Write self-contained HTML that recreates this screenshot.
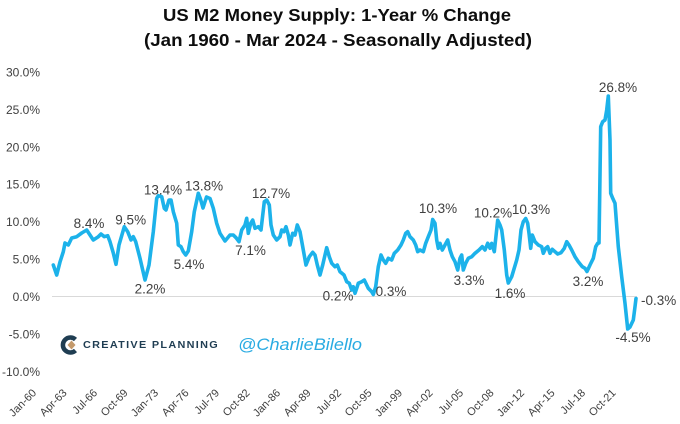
<!DOCTYPE html>
<html><head><meta charset="utf-8"><style>
html,body{margin:0;padding:0;background:#fff;}
svg{display:block;}
</style></head><body>
<svg width="680" height="424" viewBox="0 0 680 424" xmlns="http://www.w3.org/2000/svg" font-family="'Liberation Sans', sans-serif">
<rect width="680" height="424" fill="#fff"/>
<text x="163" y="21" font-size="17.5" font-weight="bold" fill="#0d0d0d" textLength="348" lengthAdjust="spacingAndGlyphs">US M2 Money Supply: 1-Year % Change</text>
<text x="144" y="46" font-size="17.5" font-weight="bold" fill="#0d0d0d" textLength="388" lengthAdjust="spacingAndGlyphs">(Jan 1960 - Mar 2024 - Seasonally Adjusted)</text>
<g font-size="12" fill="#404040" text-anchor="end">
<text x="40" y="76.5">30.0%</text>
<text x="40" y="114">25.0%</text>
<text x="40" y="151.3">20.0%</text>
<text x="40" y="188.7">15.0%</text>
<text x="40" y="226.2">10.0%</text>
<text x="40" y="263.5">5.0%</text>
<text x="40" y="301">0.0%</text>
<text x="40" y="338.4">-5.0%</text>
<text x="40" y="375.8">-10.0%</text>
</g>
<line x1="52" y1="296.5" x2="637" y2="296.5" stroke="#d9d9d9" stroke-width="1"/>
<g>
<path d="M75.5,339.5 A7.5,7.5 0 1,0 75.5,350.5" fill="none" stroke="#1f3d52" stroke-width="4.5"/>
<path d="M71.5,340.5 l4,4.5 -4,4.5 -4,-4.5z" fill="#c49a6c"/>
<text x="83" y="348" font-size="10" font-weight="bold" fill="#1f3d52" letter-spacing="1.2" textLength="136" lengthAdjust="spacingAndGlyphs">CREATIVE PLANNING</text>
<text x="238" y="350" font-size="16.5" font-style="italic" fill="#29abe2" textLength="124" lengthAdjust="spacingAndGlyphs">@CharlieBilello</text>
</g>
<polyline fill="none" stroke="#1cb2ea" stroke-width="3.6" stroke-linejoin="round" stroke-linecap="round" points="53.3,265 56.7,275 60,262 63.3,251.7 65,243 68.3,245 71.7,238 76.7,236.7 81.7,233 86.7,230 90,235 93.3,240 98.3,236.7 101,234 104.3,236.7 107.7,235.7 110,241.7 113.3,253 116,264.3 119,245 124.3,226.7 127.7,231.7 131,240 133.3,236.7 135.7,241.7 140,258.3 145,280 149,265 153.3,231.7 156.7,198.3 158.3,195.7 161.7,196.7 164.3,208.3 166,210 169,200 171,200 173.3,211.7 176.7,223.3 178.3,245 181,246.7 183.3,251.7 185.7,255 188.3,251 191.7,231.7 194.3,211.7 198.3,193.3 200.5,199 203,208 206.5,197 210,198.5 213.3,208.3 216.7,223.3 220,233.3 225,241 230,235 233.3,235 236,237.7 239,241.7 241.7,230 245,225 246.7,218.3 248.3,233.3 250.7,223.3 252.7,220 255,228.3 258.3,226.7 261,230 264.3,201.7 266.7,200 269.3,205 271,225 273.3,235 276.7,240 280,236.7 281.7,230 284,231.7 286,226.7 288.3,235 290,245 292.7,233.3 295,235 297.3,225 300,231.7 303.3,250 306,265 309.3,256.7 312.7,252.3 315,255 317.3,265 320,275 322.7,265 326.7,247.7 329.3,256.7 331.7,263.3 335,266.7 337.3,265 340,271.7 344,275 346.7,281.7 349.3,283.3 351.7,290 353.3,286.7 355,293.3 356.7,288.3 358.3,283.3 361.7,281.7 364.3,280 366.7,285 368.3,288.3 371.7,291.7 373.3,294.5 375.7,286.7 378.3,266.7 381,255 383.3,260 385.7,263.3 388.3,258.3 391.7,260 394.3,253.3 397.7,250 401,245 403.3,240 405.7,233.3 407.7,231.7 410,236.7 413.3,240 415.7,245 417.7,251.7 420,250 423.3,251.7 425.7,243.3 428.3,236.7 431,230 432.7,219.5 435,223.3 436.7,240 438.3,248.3 440,243.3 442.3,250 445,245 447.7,240 450,250 452.3,256.7 455,261.7 457.7,270 460,258.3 461.7,255 463.3,270 465.7,263.3 468.3,258.3 471.7,256.7 475,253.3 479,250 482.3,246.7 485,250 487.7,243.3 490,248.3 491.7,243.3 494.3,251.7 497.7,220.2 500,225 501.7,230 504.3,250 506.7,275 508.3,283 511.7,276.7 516.7,260 519,250 521,230 523.3,221.7 525.7,218.5 527.7,223.3 529,233.3 530.7,248.3 532.3,235 535,241.7 538.3,245 541.7,246.7 543.3,253.3 545.7,248.3 547.7,246.7 550,253.3 552.3,249.3 555,251.7 557.7,254 561,252.7 564.3,248.3 566.7,241.7 569,245 571.7,250 575,256.7 578.3,261.7 582.3,266.7 585,268.3 587,271.5 590,265 593.3,258.3 595.7,246.7 597.7,243.3 599,243 600.7,126.7 602.7,121.7 605,120 606.7,110 608.3,96 610,140 610.7,193.3 612.7,198.3 615,203.3 618.3,246.7 621.7,276.7 625,303.3 627.7,329 630,327 633.3,320 635,306.7 636,298.5"/>
<g font-size="13.5" fill="#404040" text-anchor="middle">
<text x="89" y="228">8.4%</text>
<text x="130.7" y="224.5">9.5%</text>
<text x="163" y="194.5">13.4%</text>
<text x="204" y="190.5">13.8%</text>
<text x="271" y="198">12.7%</text>
<text x="150" y="293.5">2.2%</text>
<text x="189" y="269">5.4%</text>
<text x="250.5" y="255">7.1%</text>
<text x="338" y="300.5">0.2%</text>
<text x="391" y="296">0.3%</text>
<text x="438" y="213">10.3%</text>
<text x="469" y="285">3.3%</text>
<text x="493" y="217.5">10.2%</text>
<text x="510" y="298">1.6%</text>
<text x="531" y="214">10.3%</text>
<text x="588" y="286">3.2%</text>
<text x="618" y="92">26.8%</text>
<text x="633" y="342">-4.5%</text>
<text x="641" y="305" text-anchor="start">-0.3%</text>
</g>
<g font-size="11" fill="#404040" text-anchor="end">
<text transform="translate(37,393.5) rotate(-45)">Jan-60</text>
<text transform="translate(67.5,393.5) rotate(-45)">Apr-63</text>
<text transform="translate(98,393.5) rotate(-45)">Jul-66</text>
<text transform="translate(128.5,393.5) rotate(-45)">Oct-69</text>
<text transform="translate(159,393.5) rotate(-45)">Jan-73</text>
<text transform="translate(189.5,393.5) rotate(-45)">Apr-76</text>
<text transform="translate(220,393.5) rotate(-45)">Jul-79</text>
<text transform="translate(250.5,393.5) rotate(-45)">Oct-82</text>
<text transform="translate(281,393.5) rotate(-45)">Jan-86</text>
<text transform="translate(311.5,393.5) rotate(-45)">Apr-89</text>
<text transform="translate(342,393.5) rotate(-45)">Jul-92</text>
<text transform="translate(372.5,393.5) rotate(-45)">Oct-95</text>
<text transform="translate(403,393.5) rotate(-45)">Jan-99</text>
<text transform="translate(433.5,393.5) rotate(-45)">Apr-02</text>
<text transform="translate(464,393.5) rotate(-45)">Jul-05</text>
<text transform="translate(494.5,393.5) rotate(-45)">Oct-08</text>
<text transform="translate(525,393.5) rotate(-45)">Jan-12</text>
<text transform="translate(555.5,393.5) rotate(-45)">Apr-15</text>
<text transform="translate(586,393.5) rotate(-45)">Jul-18</text>
<text transform="translate(616.5,393.5) rotate(-45)">Oct-21</text>
</g>
</svg>
</body></html>
